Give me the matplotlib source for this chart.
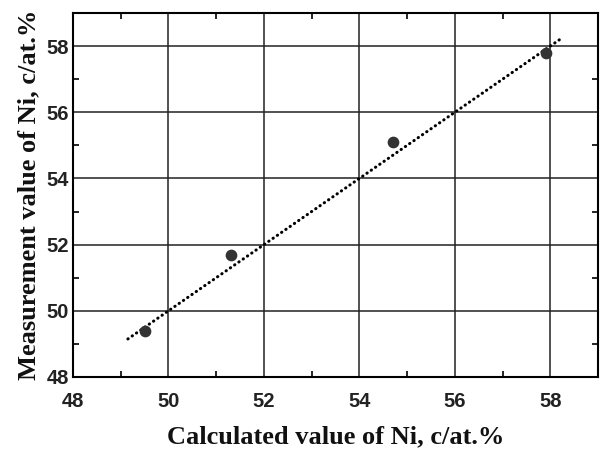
import numpy as np
import matplotlib.pyplot as plt
from matplotlib.ticker import MultipleLocator

# calculated vs measured Ni content, at.%
calc_ni = [49.5, 51.3, 54.7, 57.9]
meas_ni = [49.4, 51.7, 55.1, 57.8]

# y = x reference line
ref_x = [49.15, 58.2]
ref_y = [49.15, 58.2]

fig = plt.figure(figsize=(6.01, 4.51), dpi=100)
ax = fig.add_axes([73 / 601, 1 - 377 / 451, 525 / 601, 364 / 451])

ax.plot(ref_x, ref_y, color='black', lw=2.2, linestyle=(0, (0.1, 1.6)),
        dash_capstyle='round', zorder=3)
ax.scatter(calc_ni, meas_ni, s=55, color='#333333', zorder=4)

ax.set_xlim(48, 59)
ax.set_ylim(48, 59)
ax.xaxis.set_major_locator(MultipleLocator(2))
ax.yaxis.set_major_locator(MultipleLocator(2))
ax.xaxis.set_minor_locator(MultipleLocator(1))
ax.yaxis.set_minor_locator(MultipleLocator(1))
ax.grid(True, which='major', color='#222222', lw=1.1)
ax.set_axisbelow(True)

ax.tick_params(which='both', direction='in', top=True, right=True)
ax.tick_params(which='major', length=0)
ax.tick_params(axis='x', which='major', pad=11)
ax.tick_params(axis='y', which='major', pad=3)
ax.tick_params(which='minor', length=4, width=1.2)
for lbl in ax.get_xticklabels() + ax.get_yticklabels():
    lbl.set_fontfamily('Liberation Sans')
    lbl.set_fontweight('bold')
    lbl.set_fontsize(14.5)
    lbl.set_color('#222222')

for sp in ax.spines.values():
    sp.set_linewidth(1.5)

ax.set_xlabel('Calculated value of Ni, c/at.%', fontfamily='Liberation Serif',
              fontweight='bold', fontsize=19, labelpad=10, color='#111111')
ax.set_ylabel('Measurement value of Ni, c/at.%', fontfamily='Liberation Serif',
              fontweight='bold', fontsize=19, labelpad=4, color='#111111')

fig.savefig('out.png', dpi=100)
